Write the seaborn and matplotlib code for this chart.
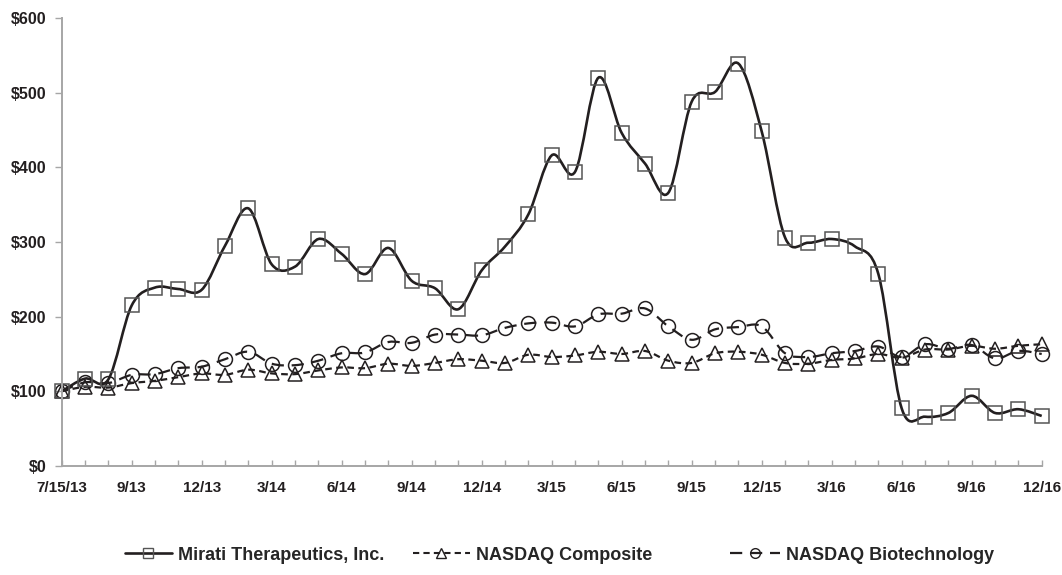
import numpy as np
import pandas as pd
import matplotlib
matplotlib.use("Agg")
import matplotlib.pyplot as plt
import seaborn as sns
from matplotlib.path import Path
from matplotlib.patches import PathPatch
from matplotlib.lines import Line2D

sns.set_theme(style="white")
plt.rcParams["font.family"] = ["Liberation Sans", "DejaVu Sans"]
plt.rcParams["font.weight"] = "bold"

# period labels (7/15/13 base, then month ends)
periods = ["7/15/13", "7/13", "8/13", "9/13", "10/13", "11/13", "12/13",
           "1/14", "2/14", "3/14", "4/14", "5/14", "6/14", "7/14", "8/14", "9/14",
           "10/14", "11/14", "12/14", "1/15", "2/15", "3/15", "4/15", "5/15", "6/15",
           "7/15", "8/15", "9/15", "10/15", "11/15", "12/15", "1/16", "2/16", "3/16",
           "4/16", "5/16", "6/16", "7/16", "8/16", "9/16", "10/16", "11/16", "12/16"]

mirati = [100, 117, 116, 215, 239, 237, 236, 295, 345, 270, 267, 304, 284, 257, 292,
          248, 238, 210, 262, 294, 337, 416, 394, 520, 446, 405, 366, 488, 501, 539,
          448, 306, 299, 304, 294, 257, 77, 66, 71, 94, 71, 76, 67]
composite = [100, 106, 105, 111, 114, 119, 124, 122, 129, 124, 123, 128, 132, 131, 137,
             134, 138, 143, 141, 138, 149, 146, 148, 153, 150, 154, 141, 138, 151, 153,
             149, 138, 137, 142, 144, 150, 145, 156, 156, 161, 157, 161, 163]
biotech = [100, 112, 111, 122, 123, 131, 133, 143, 153, 137, 135, 141, 151, 152, 166,
           165, 176, 176, 175, 185, 191, 192, 187, 203, 204, 211, 187, 169, 183, 186,
           187, 151, 146, 151, 154, 160, 146, 163, 157, 162, 144, 154, 150]

series_names = ["Mirati Therapeutics, Inc.", "NASDAQ Composite", "NASDAQ Biotechnology"]
y_ticks = [0, 100, 200, 300, 400, 500, 600]

df = pd.DataFrame({"pos": np.arange(len(periods)), "period": periods,
                   "mirati": mirati, "composite": composite, "biotech": biotech})

LINE = "#231f20"
AXIS = "#a6a6a6"


def smooth_path(x, y):
    # Excel-style smoothed line (cubic bezier through the points)
    pts = np.column_stack([x, y]).astype(float)
    n = len(pts)
    verts = [pts[0]]
    codes = [Path.MOVETO]
    for i in range(n - 1):
        p0 = pts[max(i - 1, 0)]
        p1 = pts[i]
        p2 = pts[i + 1]
        p3 = pts[min(i + 2, n - 1)]
        verts += [p1 + (p2 - p0) / 6, p2 - (p3 - p1) / 6, p2]
        codes += [Path.CURVE4] * 3
    return Path(verts, codes)


fig = plt.figure(figsize=(10.62, 5.75), dpi=100)
ax = fig.add_axes([0.0581, 0.1896, 0.9228, 0.7791])

styles = {
    "biotech": dict(marker="o", ls=(0, (5.5, 3.5)), lw=1.6, mec=LINE),
    "composite": dict(marker="^", ls=(0, (3, 2)), lw=1.6, mec=LINE),
    "mirati": dict(marker="s", ls="-", lw=1.9, mec="#555555"),
}

for col in ["biotech", "composite", "mirati"]:
    st = styles[col]
    patch = PathPatch(smooth_path(df["pos"], df[col]), facecolor="none",
                      edgecolor=LINE, lw=st["lw"], linestyle=st["ls"],
                      transform=ax.transData, clip_on=False)
    ax.add_patch(patch)
    sns.lineplot(data=df, x="pos", y=col, ax=ax, linestyle="none",
                 marker=st["marker"], markersize=10, markerfacecolor="none",
                 markeredgecolor=st["mec"], markeredgewidth=1.1,
                 clip_on=False, legend=False)

ax.set_xlim(0, len(periods) - 1)
ax.set_ylim(0, 600)
ax.set_xlabel("")
ax.set_ylabel("")

ax.set_yticks(y_ticks)
ax.set_yticklabels([f"${v}" for v in y_ticks], fontsize=11.5, fontweight="bold")
ax.set_xticks(df["pos"])
ax.set_xticklabels([p if i % 3 == 0 else "" for i, p in enumerate(periods)],
                   fontsize=11, fontweight="bold")

ax.tick_params(axis="y", direction="out", length=5, width=1, color=AXIS, pad=6,
               left=True, labelcolor="#231f20")
ax.tick_params(axis="x", direction="in", length=4, width=1, color=AXIS, pad=11,
               bottom=True, labelcolor="#231f20")

for s in ["top", "right"]:
    ax.spines[s].set_visible(False)
for s in ["left", "bottom"]:
    ax.spines[s].set_color(AXIS)
    ax.spines[s].set_linewidth(1.4)
ax.grid(False)

# legend: three separate entries placed along the bottom
legend_specs = [
    (series_names[0], "-", 1.9, "s", "#555555", 125, 2.6),
    (series_names[1], (0, (3, 2)), 1.5, "^", LINE, 413, 3.15),
    (series_names[2], (0, (5.5, 3.5)), 1.6, "o", LINE, 730, 2.75),
]
for name, ls, lw, mk, mec, xpix, hl in legend_specs:
    h = Line2D([], [], color=LINE, lw=lw, linestyle=ls, marker=mk, markersize=7,
               markerfacecolor="none", markeredgecolor=mec, markeredgewidth=1)
    fig.legend(handles=[h], labels=[name], loc="center left",
               bbox_to_anchor=(xpix / 1062, 1 - 555 / 575), frameon=False,
               borderpad=0, borderaxespad=0, handlelength=hl, handletextpad=0.35,
               prop={"size": 13, "weight": "bold"})

fig.savefig("out.png", dpi=100)
